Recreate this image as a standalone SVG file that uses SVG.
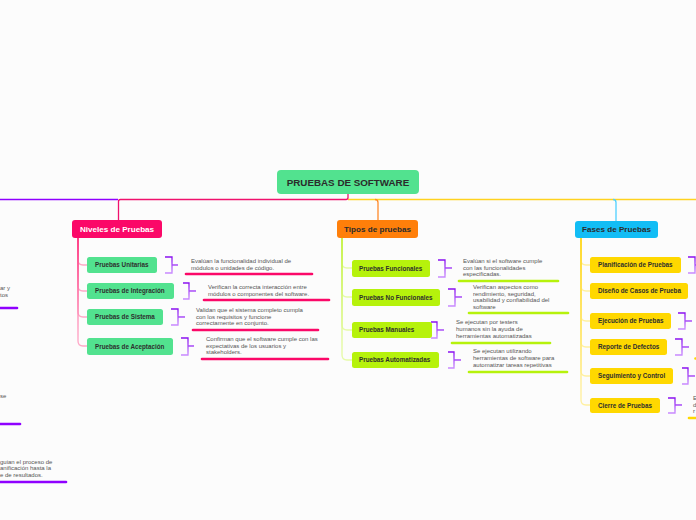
<svg xmlns="http://www.w3.org/2000/svg" width="696" height="520" viewBox="0 0 696 520">
<defs>
<linearGradient id="br" x1="0" y1="0" x2="0" y2="1">
<stop offset="0" stop-color="#8a10f0"/>
<stop offset="1" stop-color="#c98bff"/>
</linearGradient>
<linearGradient id="spP" x1="0" y1="0" x2="0" y2="1">
<stop offset="0" stop-color="#ff3d85"/>
<stop offset="1" stop-color="#ffa9c8"/>
</linearGradient>
<linearGradient id="spT" x1="0" y1="0" x2="0" y2="1">
<stop offset="0" stop-color="#c6f24a"/>
<stop offset="1" stop-color="#e6fba8"/>
</linearGradient>
<linearGradient id="spF" x1="0" y1="0" x2="0" y2="1">
<stop offset="0" stop-color="#ffd92a"/>
<stop offset="1" stop-color="#fff0a0"/>
</linearGradient>
</defs>
<style>
.bg{fill:#fcfcfc}
.t{font-family:"Liberation Sans",Arial,sans-serif}
.root{font-size:9.8px;font-weight:bold;fill:#2b2b2b}
.cat{font-size:8.1px;font-weight:bold}
.sub{font-size:6.3px;font-weight:bold;fill:#2e2e2e}
.d{font-size:6px;fill:#555}
.br{fill:none;stroke:url(#br);stroke-width:1.3}
.bar{fill:none;stroke-width:2.6;stroke-linecap:round}
.ln{fill:none;stroke-width:1.3}
</style>
<rect class="bg" x="0" y="0" width="696" height="520"/>
<g id="connectors">
<path class="ln" stroke="#8f00ff" d="M 118 199.5 H -2"/>
<path class="ln" stroke="#ffd21f" d="M 348 199.5 H 698"/>
<path class="ln" stroke="#f0116d" d="M 348 194 V 197.5 Q 348 199.5 346 199.5 H 120.5 Q 118.5 199.5 118.5 201.5 V 220"/>
<path class="ln" stroke="#ff8a2a" d="M 375 199.5 Q 378 199.5 378 202.5 V 220"/>
<path class="ln" stroke="#4fd0ff" d="M 613 199.5 Q 616 199.5 616 202.5 V 221"/>
<g stroke="url(#spP)" class="ln">
<path d="M 78 238 V 260 Q 78 265 83 265 H 87"/>
<path d="M 78 238 V 286 Q 78 291 83 291 H 87"/>
<path d="M 78 238 V 312 Q 78 317 83 317 H 87"/>
<path d="M 78 238 V 341 Q 78 346 83 346 H 87"/>
</g>
<g stroke="url(#spT)" class="ln">
<path d="M 342 238 V 263 Q 342 268 347 268 H 352"/>
<path d="M 342 238 V 292 Q 342 297 347 297 H 352"/>
<path d="M 342 238 V 325 Q 342 330 347 330 H 352"/>
<path d="M 342 238 V 355 Q 342 360 347 360 H 352"/>
</g>
<g stroke="url(#spF)" class="ln">
<path d="M 581 238 V 260 Q 581 265 586 265 H 590"/>
<path d="M 581 238 V 286 Q 581 291 586 291 H 590"/>
<path d="M 581 238 V 316 Q 581 321 586 321 H 590"/>
<path d="M 581 238 V 342 Q 581 347 586 347 H 590"/>
<path d="M 581 238 V 371 Q 581 376 586 376 H 590"/>
<path d="M 581 238 V 400 Q 581 405 586 405 H 590"/>
</g>
</g>
<g id="root">
<rect x="277" y="170" width="142" height="24" rx="4" fill="#52e28f"/>
<text class="t root" x="348" y="186.3" text-anchor="middle">PRUEBAS DE SOFTWARE</text>
</g>
<g id="niveles">
<rect x="72" y="220" width="90" height="18" rx="3" fill="#fb0868"/>
<text class="t cat" x="117" y="231.8" text-anchor="middle" fill="#ffffff">Niveles de Pruebas</text>
</g>
<g id="tipos">
<rect x="337" y="220" width="81" height="18" rx="3" fill="#ff7f0a"/>
<text class="t cat" x="377.5" y="231.8" text-anchor="middle" fill="#2b2b2b">Tipos de pruebas</text>
</g>
<g id="fases">
<rect x="575" y="221" width="83" height="17" rx="3" fill="#12bdf5"/>
<text class="t cat" x="616.5" y="232.3" text-anchor="middle" fill="#2b2b2b">Fases de Pruebas</text>
</g>
<g id="n-unitarias">
<rect x="87" y="257" width="70" height="16" rx="2.5" fill="#52e28f"/>
<text class="t sub" x="95" y="267.2">Pruebas Unitarias</text>
<path class="br" d="M 165 257 H 172 V 273 H 165 M 172 265 H 178"/>
<text class="t d" x="191" y="263">Evalúan la funcionalidad individual de<tspan x="191" y="269.5">módulos o unidades de código.</tspan></text>
<path class="bar" stroke="#fb0868" d="M 186 274 H 312"/>
</g>
<g id="n-integracion">
<rect x="87" y="283" width="87" height="16" rx="2.5" fill="#52e28f"/>
<text class="t sub" x="95" y="293.2">Pruebas de Integración</text>
<path class="br" d="M 183 283 H 189 V 299 H 183 M 189 291 H 196"/>
<text class="t d" x="208" y="289">Verifican la correcta interacción entre<tspan x="208" y="295.5">módulos o componentes del software.</tspan></text>
<path class="bar" stroke="#fb0868" d="M 204 300 H 329"/>
</g>
<g id="n-sistema">
<rect x="87" y="309" width="76" height="16" rx="2.5" fill="#52e28f"/>
<text class="t sub" x="95" y="319.2">Pruebas de Sistema</text>
<path class="br" d="M 171 309 H 178 V 325 H 171 M 178 317 H 185"/>
<text class="t d" x="196" y="312">Validan que el sistema completo cumpla<tspan x="196" y="318.5">con los requisitos y funcione</tspan><tspan x="196" y="325">correctamente en conjunto.</tspan></text>
<path class="bar" stroke="#fb0868" d="M 193 330 H 318"/>
</g>
<g id="n-aceptacion">
<rect x="87" y="338" width="86" height="17" rx="2.5" fill="#52e28f"/>
<text class="t sub" x="95" y="348.7">Pruebas de Aceptación</text>
<path class="br" d="M 181 338 H 188 V 355 H 181 M 188 346 H 194"/>
<text class="t d" x="206" y="341">Confirman que el software cumple con las<tspan x="206" y="347.5">expectativas de los usuarios y</tspan><tspan x="206" y="354">stakeholders.</tspan></text>
<path class="bar" stroke="#fb0868" d="M 202 359 H 328"/>
</g>
<g id="t-funcionales">
<rect x="352" y="260" width="78" height="17" rx="2.5" fill="#b6f20c"/>
<text class="t sub" x="359" y="270.7">Pruebas Funcionales</text>
<path class="br" d="M 438 260 H 445 V 277 H 438 M 445 268 H 452"/>
<text class="t d" x="463" y="263">Evalúan si el software cumple<tspan x="463" y="269.5">con las funcionalidades</tspan><tspan x="463" y="276">especificadas.</tspan></text>
<path class="bar" stroke="#b6f20c" d="M 459 281 H 558"/>
</g>
<g id="t-nofuncionales">
<rect x="352" y="289" width="88" height="17" rx="2.5" fill="#b6f20c"/>
<text class="t sub" x="359" y="299.7">Pruebas No Funcionales</text>
<path class="br" d="M 448 289 H 455 V 306 H 448 M 455 297 H 462"/>
<text class="t d" x="473" y="289">Verifican aspectos como<tspan x="473" y="295.5">rendimiento, seguridad,</tspan><tspan x="473" y="302">usabilidad y confiabilidad del</tspan><tspan x="473" y="308.5">software</tspan></text>
<path class="bar" stroke="#b6f20c" d="M 469 313 H 568"/>
</g>
<g id="t-manuales">
<rect x="352" y="322" width="80" height="16" rx="2.5" fill="#b6f20c"/>
<text class="t sub" x="359" y="332.2">Pruebas Manuales</text>
<path class="br" d="M 431 322 H 437 V 338 H 431 M 437 330 H 444"/>
<text class="t d" x="456" y="324">Se ejecutan por testers<tspan x="456" y="331">humanos sin la ayuda de</tspan><tspan x="456" y="338">herramientas automatizadas</tspan></text>
<path class="bar" stroke="#b6f20c" d="M 452 343 H 550"/>
</g>
<g id="t-automatizadas">
<rect x="352" y="352" width="87" height="16" rx="2.5" fill="#b6f20c"/>
<text class="t sub" x="359" y="362.2">Pruebas Automatizadas</text>
<path class="br" d="M 448 352 H 454 V 368 H 448 M 454 360 H 461"/>
<text class="t d" x="473" y="353">Se ejecutan utilizando<tspan x="473" y="360">herramientas de software para</tspan><tspan x="473" y="367">automatizar tareas repetitivas</tspan></text>
<path class="bar" stroke="#b6f20c" d="M 469 372 H 567"/>
</g>
<g id="f-planificacion">
<rect x="590" y="257" width="91" height="16" rx="2.5" fill="#ffd800"/>
<text class="t sub" x="598" y="267.2">Planificación de Pruebas</text>
<path class="br" d="M 688 257 H 695 V 273 H 688 M 695 265 H 702"/>
</g>
<g id="f-diseno">
<rect x="590" y="283" width="98" height="16" rx="2.5" fill="#ffd800"/>
<text class="t sub" x="598" y="293.2">Diseño de Casos de Prueba</text>
</g>
<g id="f-ejecucion">
<rect x="590" y="313" width="81" height="16" rx="2.5" fill="#ffd800"/>
<text class="t sub" x="598" y="323.2">Ejecución de Pruebas</text>
<path class="br" d="M 678 313 H 685 V 329 H 678 M 685 321 H 692"/>
</g>
<g id="f-reporte">
<rect x="590" y="339" width="77" height="16" rx="2.5" fill="#ffd800"/>
<text class="t sub" x="598" y="349.2">Reporte de Defectos</text>
<path class="br" d="M 675 339 H 682 V 355 H 675 M 682 347 H 689"/>
<path class="bar" stroke="#ffd800" d="M 695.5 358.5 H 698"/>
</g>
<g id="f-seguimiento">
<rect x="590" y="368" width="83" height="16" rx="2.5" fill="#ffd800"/>
<text class="t sub" x="598" y="378.2">Seguimiento y Control</text>
<path class="br" d="M 682 368 H 688 V 384 H 682 M 688 376 H 695"/>
</g>
<g id="f-cierre">
<rect x="590" y="398" width="70" height="15" rx="2.5" fill="#ffd800"/>
<text class="t sub" x="598" y="407.7">Cierre de Pruebas</text>
<path class="br" d="M 668 398 H 675 V 413 H 668 M 675 405 H 682"/>
<text class="t d" x="693" y="400">E<tspan x="693" y="406.5">d</tspan><tspan x="693" y="413">r</tspan></text>
<path class="bar" stroke="#ffd800" d="M 689 418 H 698"/>
</g>
<g id="left-branch">
<text class="t d" x="0" y="290">ar y<tspan x="0" y="296.5">tos</tspan></text>
<path class="bar" stroke="#8f00ff" d="M -2 308 H 17"/>
<text class="t d" x="0" y="397.5">se</text>
<path class="bar" stroke="#8f00ff" d="M -2 424 H 20"/>
<text class="t d" x="0" y="463.5">guian el proceso de<tspan x="0" y="470">anificación hasta la</tspan><tspan x="0" y="476.5">e de resultados.</tspan></text>
<path class="bar" stroke="#8f00ff" d="M -2 482 H 66"/>
</g>
</svg>
